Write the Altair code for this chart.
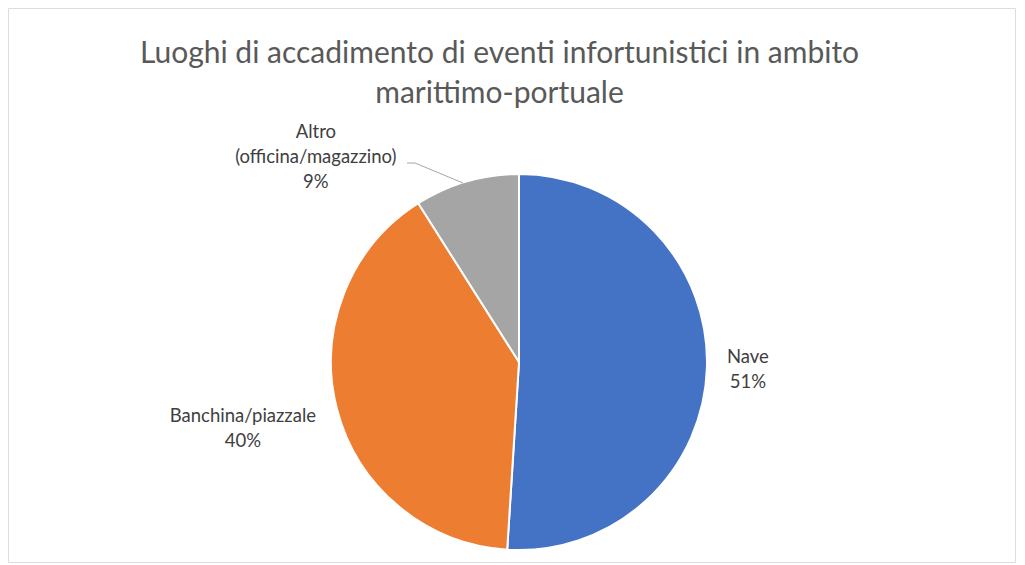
import math
import altair as alt
import pandas as pd

categories = ["Nave", "Banchina/piazzale", "Altro\n(officina/magazzino)"]
values = [51, 40, 9]
colors = ["#4472C4", "#ED7D31", "#A5A5A5"]
title_lines = ["Luoghi di accadimento di eventi infortunistici in ambito", "marittimo-portuale"]

df = pd.DataFrame({
    "cat": categories,
    "value": values,
    "ord": list(range(len(categories))),
})
df["label"] = df["cat"] + "\n" + df["value"].astype(str) + "%"

CX, CY, R = 511, 354, 188
theta_scale = alt.Scale(domain=[0, 1], range=[0, 2 * math.pi])
color_scale = alt.Scale(domain=categories, range=colors)

base = alt.Chart(df).transform_joinaggregate(
    total="sum(value)"
).transform_window(
    cum="sum(value)", sort=[alt.SortField("ord")], frame=[None, 0]
).transform_calculate(
    end="datum.cum / datum.total",
    start="(datum.cum - datum.value) / datum.total",
    mid="(datum.cum - datum.value / 2) / datum.total",
)

pie = base.mark_arc(stroke="white", strokeWidth=2, radius=R).encode(
    theta=alt.Theta("start:Q", scale=theta_scale),
    theta2="end:Q",
    color=alt.Color("cat:N", scale=color_scale, legend=None),
    x=alt.value(CX),
    y=alt.value(CY),
)

def label_layer(cat, radius, dx, dy):
    return base.transform_filter(alt.datum.cat == cat).mark_text(
        lineBreak="\n", font="Lato", fontSize=18.5, color="#404040",
        align="center", baseline="middle", lineHeight=25,
        radius=radius, dx=dx, dy=dy,
    ).encode(
        theta=alt.Theta("mid:Q", scale=theta_scale),
        text="label:N",
        x=alt.value(CX),
        y=alt.value(CY),
    )

lab_nave = label_layer(categories[0], 229, 0, -12)
lab_ban = label_layer(categories[1], 283, -2, -16)
lab_alt = label_layer(categories[2], 230, -139, -9)

leader1 = alt.Chart(df).mark_rule(color="#A6A6A6", strokeWidth=1).encode(
    x=alt.value(399), x2=alt.value(407), y=alt.value(155), y2=alt.value(155)
).transform_filter(alt.datum.ord == 2)
leader2 = alt.Chart(df).mark_rule(color="#A6A6A6", strokeWidth=1).encode(
    x=alt.value(407), x2=alt.value(455), y=alt.value(155), y2=alt.value(175)
).transform_filter(alt.datum.ord == 2)

chart = alt.layer(pie, leader1, leader2, lab_nave, lab_ban, lab_alt).properties(
    width=1007,
    height=554,
    title=alt.TitleParams(
        text=title_lines, font="Lato", fontSize=30, fontWeight="normal",
        color="#595959", anchor="middle", lineHeight=40,
        baseline="top", offset=0, dy=101, dx=-12,
    ),
    autosize=alt.AutoSizeParams(type="none"),
    padding={"left": 0, "top": 0, "right": 2, "bottom": 2},
).configure_view(
    stroke="#D9D9D9", strokeWidth=1.5
).configure(background="white")

chart.save("out.html", embed_options={"renderer": "svg", "actions": False})
